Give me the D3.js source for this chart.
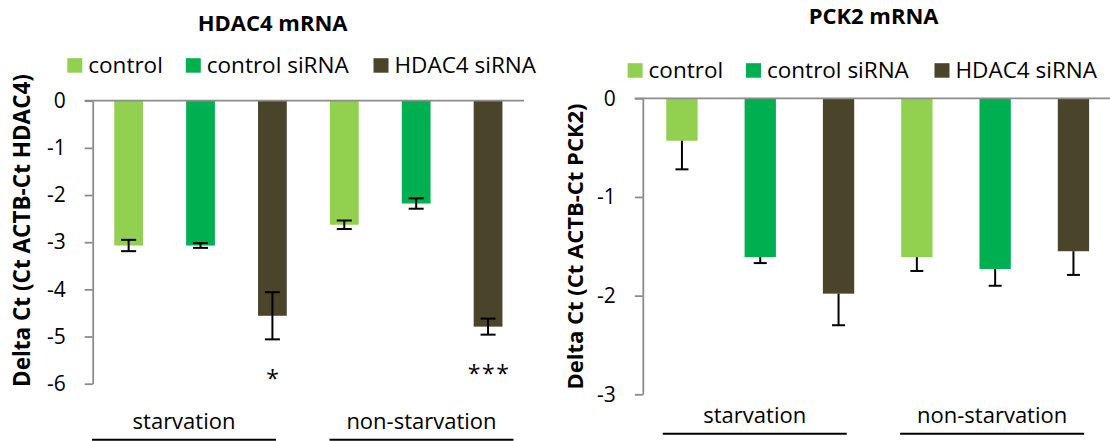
<!DOCTYPE html>
<html>
<head>
<meta charset="utf-8">
<script src="https://cdn.jsdelivr.net/npm/d3@7"></script>
<style>
  html, body { margin: 0; padding: 0; background: #fff; }
  svg { display: block; font-family: 'Open Sans', sans-serif; }
</style>
</head>
<body>
<svg id="chart" width="1110" height="441"></svg>
<script>
// data
const groups = ['starvation', 'non-starvation'];
const seriesNames = ['control', 'control siRNA', 'HDAC4 siRNA'];
const seriesColors = ['#92d050', '#00b050', '#4a452a'];

const hdac4Values = [[-3.07, -3.07, -4.56], [-2.63, -2.18, -4.79]];
const hdac4Errors = [[0.12, 0.05, 0.50], [0.09, 0.11, 0.17]];
const hdac4Stars = [['', '', '*'], ['', '', '***']];
const hdac4Ticks = [0, -1, -2, -3, -4, -5, -6];

const pck2Values = [[-0.43, -1.61, -1.98], [-1.61, -1.73, -1.55]];
const pck2Errors = [[0.29, 0.06, 0.32], [0.14, 0.17, 0.24]];
const pck2Stars = [['', '', ''], ['', '', '']];
const pck2Ticks = [0, -1, -2, -3];

const svg = d3.select('#chart');
svg.append('rect').attr('width', 1110).attr('height', 441).attr('fill', '#fff');

function drawPanel(p) {
  const g = svg.append('g');

  const x0 = d3.scaleBand().domain(groups).range([p.left, p.right]).padding(0);
  const x1 = d3.scaleBand().domain(seriesNames).range([0, x0.bandwidth()])
    .paddingInner(0.6).paddingOuter(0.3);
  const y = d3.scaleLinear().domain([d3.min(p.ticks), 0]).range([p.bottom, p.top]);

  // title
  g.append('text')
    .attr('x', p.titleX).attr('y', p.titleY)
    .attr('text-anchor', 'middle')
    .style('font-size', '22px').style('font-weight', 'bold')
    .text(p.title);

  // legend
  seriesNames.forEach((s, i) => {
    const lx = p.legendXs[i];
    g.append('rect')
      .attr('x', lx).attr('y', p.legendY - 14.5)
      .attr('width', 15).attr('height', 14.5)
      .attr('fill', seriesColors[i]);
    g.append('text')
      .attr('x', lx + 21).attr('y', p.legendY)
      .style('font-size', '22.5px')
      .text(s);
  });

  // bars
  groups.forEach((grp, gi) => {
    seriesNames.forEach((s, si) => {
      const v = p.values[gi][si];
      g.append('rect')
        .attr('x', x0(grp) + x1(s))
        .attr('y', y(0))
        .attr('width', x1.bandwidth())
        .attr('height', y(v) - y(0))
        .attr('fill', seriesColors[si]);
    });
  });

  // zero line
  g.append('line')
    .attr('x1', p.left - 8).attr('x2', p.right)
    .attr('y1', y(0)).attr('y2', y(0))
    .attr('stroke', '#8c8c8c').attr('stroke-width', 1.8);

  // y axis
  const ax = g.append('g')
    .attr('transform', `translate(${p.left},0)`)
    .call(d3.axisLeft(y).tickValues(p.ticks).tickSize(8).tickSizeOuter(0)
      .tickPadding(19).tickFormat(d => String(d)));
  ax.select('.domain').attr('stroke', '#8c8c8c').attr('stroke-width', 1.8);
  ax.selectAll('.tick line').attr('stroke', '#8c8c8c').attr('stroke-width', 1.8);
  ax.selectAll('.tick text')
    .attr('fill', '#000')
    .style('font-size', '21px').style('font-family', "'Open Sans', sans-serif");

  // error bars and stars
  groups.forEach((grp, gi) => {
    seriesNames.forEach((s, si) => {
      const v = p.values[gi][si];
      const e = p.errors[gi][si];
      const cx = x0(grp) + x1(s) + x1.bandwidth() / 2;
      const yTop = p.bothWays ? y(v + e) : y(v);
      const yBot = y(v - e);
      g.append('line')
        .attr('x1', cx).attr('x2', cx).attr('y1', yTop).attr('y2', yBot)
        .attr('stroke', '#000').attr('stroke-width', 2);
      g.append('line')
        .attr('x1', cx - p.cap / 2).attr('x2', cx + p.cap / 2)
        .attr('y1', yBot).attr('y2', yBot)
        .attr('stroke', '#000').attr('stroke-width', 2);
      if (p.bothWays) {
        g.append('line')
          .attr('x1', cx - p.cap / 2).attr('x2', cx + p.cap / 2)
          .attr('y1', yTop).attr('y2', yTop)
          .attr('stroke', '#000').attr('stroke-width', 2);
      }
      const star = p.stars[gi][si];
      if (star) {
        g.append('text')
          .attr('x', cx + 1).attr('y', yBot + 33.7 + 13.5)
          .attr('text-anchor', 'middle')
          .style('font-size', '23px').style('letter-spacing', '1.5px')
          .text(star);
      }
    });
  });

  // group labels with underline
  groups.forEach((grp, gi) => {
    const cx = x0(grp) + x0.bandwidth() / 2 + p.labelShift[gi];
    g.append('text')
      .attr('x', cx).attr('y', p.labelY)
      .attr('text-anchor', 'middle')
      .style('font-size', '22px')
      .text(grp);
    g.append('line')
      .attr('x1', cx - 92).attr('x2', cx + 92)
      .attr('y1', p.labelY + 10.5).attr('y2', p.labelY + 10.5)
      .attr('stroke', '#000').attr('stroke-width', 2);
  });

  // y axis title
  g.append('text')
    .attr('transform', `translate(${p.yTitleX},${p.yTitleY}) rotate(-90)`)
    .attr('text-anchor', 'middle')
    .style('font-size', p.yTitleFont + 'px').style('font-weight', 'bold')
    .text(p.yTitle);
}

drawPanel({
  title: 'HDAC4 mRNA', titleX: 272.6, titleY: 30.7,
  legendXs: [67.3, 185.8, 373.5], legendY: 72.7,
  left: 92.7, right: 524, top: 100.7, bottom: 383.7,
  ticks: hdac4Ticks, values: hdac4Values, errors: hdac4Errors, stars: hdac4Stars,
  bothWays: true, cap: 15,
  labelY: 429.3, labelShift: [-16.5, 5.3],
  yTitle: 'Delta Ct (Ct ACTB-Ct HDAC4)', yTitleX: 29.5, yTitleY: 230.5, yTitleFont: 22.5
});

drawPanel({
  title: 'PCK2 mRNA', titleX: 873.6, titleY: 24,
  legendXs: [627.6, 746, 934.5], legendY: 77.7,
  left: 642.8, right: 1112.6, top: 98.3, bottom: 394.3,
  ticks: pck2Ticks, values: pck2Values, errors: pck2Errors, stars: pck2Stars,
  bothWays: false, cap: 13,
  labelY: 423.3, labelShift: [-5.5, -3],
  yTitle: 'Delta Ct (Ct ACTB-Ct PCK2)', yTitleX: 583, yTitleY: 246.5, yTitleFont: 22
});
</script>
</body>
</html>
